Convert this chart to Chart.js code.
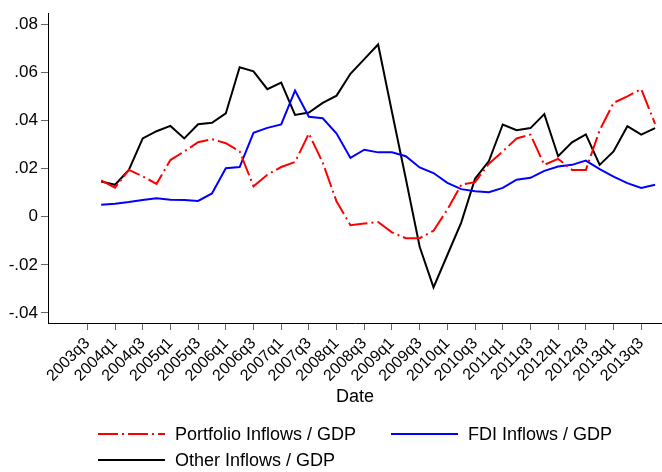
<!DOCTYPE html>
<html>
<head>
<meta charset="utf-8">
<script src="https://cdn.jsdelivr.net/npm/chart.js@4"></script>
<style>
  html, body { margin: 0; padding: 0; background: #fff; }
  canvas { display: block; }
</style>
</head>
<body>
<canvas id="flows" width="662" height="472"></canvas>
<script>
// quarterly inflows as share of GDP, 2003q4 - 2013q4
const quarters = [
  '2003q4',
  '2004q1', '2004q2', '2004q3', '2004q4',
  '2005q1', '2005q2', '2005q3', '2005q4',
  '2006q1', '2006q2', '2006q3', '2006q4',
  '2007q1', '2007q2', '2007q3', '2007q4',
  '2008q1', '2008q2', '2008q3', '2008q4',
  '2009q1', '2009q2', '2009q3', '2009q4',
  '2010q1', '2010q2', '2010q3', '2010q4',
  '2011q1', '2011q2', '2011q3', '2011q4',
  '2012q1', '2012q2', '2012q3', '2012q4',
  '2013q1', '2013q2', '2013q3', '2013q4'
];
const portfolio = [
  0.0151, 0.0121, 0.0195, 0.0168, 0.0137, 0.0236, 0.0272, 0.0310, 0.0323, 0.0306,
  0.0272, 0.0127, 0.0175, 0.0207, 0.0228, 0.0346, 0.0225, 0.0063, -0.0035, -0.0028,
  -0.0022, -0.0065, -0.0089, -0.0089, -0.0058, 0.0030, 0.0133, 0.0144, 0.0221, 0.0272,
  0.0326, 0.0342, 0.0216, 0.0241, 0.0195, 0.0195, 0.0360, 0.0474, 0.0501, 0.0531, 0.0387
];
const fdi = [
  0.0050, 0.0054, 0.0061, 0.0070, 0.0077, 0.0071, 0.0070, 0.0066, 0.0097, 0.0202,
  0.0207, 0.0349, 0.0370, 0.0384, 0.0525, 0.0416, 0.0410, 0.0346, 0.0245, 0.0279,
  0.0268, 0.0268, 0.0252, 0.0205, 0.0182, 0.0141, 0.0115, 0.0106, 0.0102, 0.0120,
  0.0154, 0.0162, 0.0191, 0.0209, 0.0216, 0.0234, 0.0198, 0.0167, 0.0140, 0.0120, 0.0133
];
const other = [
  0.0147, 0.0133, 0.0195, 0.0326, 0.0356, 0.0378, 0.0326, 0.0385, 0.0391, 0.0430,
  0.0622, 0.0605, 0.0531, 0.0558, 0.0424, 0.0434, 0.0474, 0.0504, 0.0595, 0.0656,
  0.0717, 0.0436, 0.0158, -0.0125, -0.0294, -0.0159, -0.0024, 0.0158, 0.0232, 0.0384,
  0.0360, 0.0369, 0.0427, 0.0252, 0.0310, 0.0343, 0.0216, 0.0272, 0.0377, 0.0342, 0.0369
];
const tickQuarters = [
  '2003q3', '2004q1', '2004q3', '2005q1', '2005q3', '2006q1', '2006q3',
  '2007q1', '2007q3', '2008q1', '2008q3', '2009q1', '2009q3', '2010q1',
  '2010q3', '2011q1', '2011q3', '2012q1', '2012q3', '2013q1', '2013q3'
];
const yTicks = [-0.04, -0.02, 0, 0.02, 0.04, 0.06, 0.08];

const FONT = '"Liberation Sans", Arial, sans-serif';

// position on the x axis, in quarters since 2003q3
function qIndex(q) {
  return (parseInt(q.slice(0, 4)) - 2003) * 4 + (parseInt(q.slice(5)) - 3);
}

// stata style: .02, -.04, 0
function fmt(v) {
  if (Math.abs(v) < 1e-9) return '0';
  return v.toFixed(2).replace('0.', '.');
}

function series(values) {
  return values.map((v, i) => ({ x: qIndex(quarters[i]), y: v }));
}

// legend + x title drawn by hand so the layout matches the stata one
const legendBox = {
  id: 'legendBox',
  afterDraw(chart) {
    const ctx = chart.ctx;
    const area = chart.chartArea;
    ctx.save();
    ctx.font = '18px ' + FONT;
    ctx.fillStyle = '#000';
    ctx.textBaseline = 'middle';
    ctx.textAlign = 'center';
    ctx.fillText('Date', (area.left + area.right) / 2, 397);

    const spots = [[98, 434], [391, 434], [98, 460]];
    chart.data.datasets.forEach((ds, i) => {
      const [x, y] = spots[i];
      ctx.beginPath();
      ctx.strokeStyle = ds.borderColor;
      ctx.lineWidth = ds.borderWidth;
      ctx.setLineDash(ds.borderDash || []);
      ctx.moveTo(x, y);
      ctx.lineTo(x + 67, y);
      ctx.stroke();
      ctx.setLineDash([]);
      ctx.textAlign = 'left';
      ctx.fillText(ds.label, x + 77, y + 1);
    });
    ctx.restore();
  }
};

new Chart(document.getElementById('flows'), {
  type: 'line',
  data: {
    datasets: [
      {
        label: 'Portfolio Inflows / GDP',
        data: series(portfolio),
        borderColor: '#ff0000',
        borderWidth: 2,
        borderDash: [20, 4, 2, 4],
        pointRadius: 0,
        tension: 0
      },
      {
        label: 'FDI Inflows / GDP',
        data: series(fdi),
        borderColor: '#0000ff',
        borderWidth: 2,
        pointRadius: 0,
        tension: 0
      },
      {
        label: 'Other Inflows / GDP',
        data: series(other),
        borderColor: '#000000',
        borderWidth: 2,
        pointRadius: 0,
        tension: 0
      }
    ]
  },
  options: {
    responsive: false,
    animation: false,
    layout: { padding: { top: 5, left: 0, right: 0, bottom: 0 } },
    plugins: {
      legend: { display: false },
      tooltip: { enabled: false }
    },
    scales: {
      x: {
        type: 'linear',
        min: -2.84,
        max: 41.5,
        afterBuildTicks: s => { s.ticks = tickQuarters.map(q => ({ value: qIndex(q) })); },
        afterFit: s => { s.height = 149; s.paddingLeft = 0; s.paddingRight = 0; },
        ticks: {
          autoSkip: false,
          minRotation: 45,
          maxRotation: 45,
          padding: 4,
          color: '#000',
          font: { family: FONT, size: 16 },
          callback: (v, i) => tickQuarters[i]
        },
        grid: { drawOnChartArea: false, tickLength: 7, color: '#666' },
        border: { color: '#000', width: 1 }
      },
      y: {
        min: -0.0442,
        max: 0.0847,
        afterBuildTicks: s => { s.ticks = yTicks.map(v => ({ value: v })); },
        afterFit: s => { s.width = 48; },
        ticks: {
          padding: 3,
          color: '#000',
          font: { family: FONT, size: 17 },
          callback: v => fmt(v)
        },
        grid: { drawOnChartArea: false, tickLength: 7, color: '#666' },
        border: { color: '#000', width: 1 }
      }
    }
  },
  plugins: [legendBox]
});
</script>
</body>
</html>
